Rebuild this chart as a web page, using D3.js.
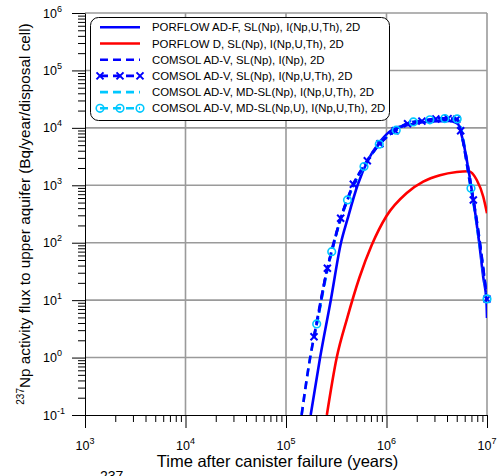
<!DOCTYPE html>
<html><head><meta charset="utf-8">
<script src="https://cdn.jsdelivr.net/npm/d3@7"></script>
<style>
body{margin:0;background:#fff;}
svg{display:block;font-family:Arial,"Liberation Sans",sans-serif;}
</style>
</head><body>
<svg id="chart" width="497" height="476"></svg>
<script>
// ---- tick labels ----
const xDecades = [1e3, 1e4, 1e5, 1e6, 1e7];
const xExponents = ["3", "4", "5", "6", "7"];
const yDecades = [1e-1, 1e0, 1e1, 1e2, 1e3, 1e4, 1e5, 1e6];
const yExponents = ["-1", "0", "1", "2", "3", "4", "5", "6"];

// ---- series (time in years, flux in Bq/year/disposal cell) ----
const porflowAdfT = [1.76e5, 2.18e5, 2.79e5, 3.52e5, 4.07e5, 5.16e5, 6.55e5, 8.41e5, 1.13e6, 1.71e6, 2.71e6, 4.29e6, 5.14e6, 5.64e6, 6.93e6, 8.37e6, 9.18e6, 9.87e6, 1.0e7];
const porflowAdfV = [0.1, 0.98, 10, 99, 249, 1010, 2760, 5440, 9180, 11430, 12900, 13160, 11660, 7000, 1010, 99, 25, 10, 4.9];

const porflowDT = [2.55e5, 3.19e5, 4.07e5, 5.36e5, 7.13e5, 1.0e6, 1.59e6, 2.32e6, 3.40e6, 5.0e6, 6.52e6, 7.91e6, 9.18e6, 1.0e7];
const porflowDV = [0.1, 0.98, 4.9, 24.3, 91, 292, 735, 1156, 1496, 1702, 1754, 1236, 632, 325];

const comsolNpT = [1.43e5, 1.74e5, 1.90e5, 2.02e5, 2.58e5, 2.85e5, 3.50e5, 4.09e5, 4.68e5, 5.97e5, 6.44e5, 8.47e5, 1.22e6, 1.71e6, 2.31e6, 3.54e6, 5.0e6, 5.47e6, 6.93e6, 7.31e6, 1.0e7];
const comsolNpV = [0.1, 1.0, 2.31, 3.85, 35.9, 69.8, 266, 555, 1040, 2120, 2680, 5180, 8930, 12300, 13300, 14700, 14100, 8930, 885, 555, 10.5];

const comsolAllT = [1.90e5, 2.58e5, 3.50e5, 4.68e5, 6.44e5, 8.6e5, 1.22e6, 1.62e6, 2.25e6, 3.1e6, 4.1e6, 5.0e6, 5.47e6, 7.31e6, 1.0e7];
const comsolAllV = [2.31, 35.9, 266, 1040, 2680, 5300, 8930, 11800, 13100, 14300, 14500, 14100, 8930, 555, 10.5];

const comsolMdNpT = [1.43e5, 1.74e5, 1.92e5, 2.05e5, 2.6e5, 2.9e5, 3.5e5, 4.1e5, 4.7e5, 6.0e5, 8.5e5, 1.22e6, 1.71e6, 2.31e6, 3.54e6, 5.0e6, 5.47e6, 6.93e6, 7.31e6, 1.0e7];
const comsolMdNpV = [0.1, 1.0, 2.5, 4.2, 38, 78, 270, 560, 1050, 2150, 5200, 8950, 12300, 13300, 14600, 14100, 8900, 880, 550, 10.5];

const comsolMdNpUT = [2.02e5, 2.85e5, 4.09e5, 5.97e5, 8.47e5, 1.25e6, 1.85e6, 2.7e6, 3.8e6, 5.05e6, 6.93e6, 1.0e7];
const comsolMdNpUV = [3.85, 69.8, 555, 2120, 5180, 9100, 12700, 13800, 14500, 14300, 885, 10.5];

const seriesNames = [
  "PORFLOW AD-F, SL(Np), I(Np,U,Th), 2D",
  "PORFLOW D, SL(Np), I(Np,U,Th), 2D",
  "COMSOL AD-V, SL(Np), I(Np), 2D",
  "COMSOL AD-V, SL(Np), I(Np,U,Th), 2D",
  "COMSOL AD-V, MD-SL(Np), I(Np,U,Th), 2D",
  "COMSOL AD-V, MD-SL(Np,U), I(Np,U,Th), 2D"
];
const xTitle = "Time after canister failure (years)";
const yTitleSup = "237";
const yTitleMain = "Np activity flux to upper aquifer (Bq/year/disposal cell)";

// ---- drawing ----
const BLUE = "#0000ff", RED = "#ff0000", CYAN = "#00c8ff", GRID = "#9a9a9a";
const L = 85, R = 487, T = 13, B = 415;
const svg = d3.select("#chart");
const x = d3.scaleLog().domain([1e3, 1e7]).range([L, R]);
const y = d3.scaleLog().domain([1e-1, 1e6]).range([B, T]);
const zip = (a, b) => a.map((d, i) => [d, b[i]]);

// grid
svg.append("g").selectAll("line").data(xDecades.slice(1)).join("line")
  .attr("x1", d => x(d)).attr("x2", d => x(d)).attr("y1", T).attr("y2", B)
  .attr("stroke", GRID).attr("stroke-width", 1.6);
svg.append("g").selectAll("line").data(yDecades.slice(1)).join("line")
  .attr("y1", d => y(d)).attr("y2", d => y(d)).attr("x1", L).attr("x2", R)
  .attr("stroke", GRID).attr("stroke-width", 1.6);

// minor ticks
const minorX = [], minorY = [];
xDecades.slice(0, -1).forEach(d => { for (let k = 2; k <= 9; k++) minorX.push(d * k); });
yDecades.slice(0, -1).forEach(d => { for (let k = 2; k <= 9; k++) minorY.push(d * k); });

const gx = svg.append("g").attr("transform", `translate(0,${B})`);
gx.call(d3.axisBottom(x).tickValues(xDecades).tickSize(13).tickSizeOuter(0).tickFormat(""));
gx.append("g").call(d3.axisBottom(x).tickValues(minorX).tickSize(7).tickFormat("")).select(".domain").remove();
const gy = svg.append("g").attr("transform", `translate(${L},0)`);
gy.call(d3.axisLeft(y).tickValues(yDecades).tickSize(13).tickSizeOuter(0).tickFormat(""));
gy.append("g").call(d3.axisLeft(y).tickValues(minorY).tickSize(7).tickFormat("")).select(".domain").remove();
svg.selectAll(".domain, .tick line").attr("stroke", "#000").attr("stroke-width", 1);

// tick labels
const xl = svg.append("g").selectAll("text").data(xDecades).join("text")
  .attr("x", d => x(d)).attr("y", 450).attr("text-anchor", "middle").attr("font-size", 12.5);
xl.append("tspan").text("10");
xl.append("tspan").attr("dy", -6).attr("font-size", 9).text((d, i) => xExponents[i]);

const yl = svg.append("g").selectAll("text").data(yDecades).join("text")
  .attr("x", 43).attr("y", d => y(d) + 4.5).attr("text-anchor", "start").attr("font-size", 12.5);
yl.append("tspan").text("10");
yl.append("tspan").attr("dy", -6).attr("font-size", 9).text((d, i) => yExponents[i]);

// axis titles
svg.append("text").attr("x", 277.5).attr("y", 467).attr("text-anchor", "middle")
  .attr("font-size", 16.5).text(xTitle);
const yt = svg.append("text").attr("transform", "translate(29.5,214) rotate(-90)")
  .attr("text-anchor", "middle").attr("font-size", 15.3);
yt.append("tspan").attr("font-size", 10).attr("dy", -6).text(yTitleSup);
yt.append("tspan").attr("dy", 6).text(yTitleMain);

// cut-off caption fragment at bottom (as in the reference)
svg.append("text").attr("x", 100).attr("y", 481).attr("font-size", 14).text("237");

// clip
svg.append("clipPath").attr("id", "pc").append("rect")
  .attr("x", L).attr("y", T).attr("width", R - L).attr("height", B - T);
const plotG = svg.append("g").attr("clip-path", "url(#pc)");
const line = d3.line().x(d => x(d[0])).y(d => y(d[1])).curve(d3.curveMonotoneX);

function drawLine(data, color, dash) {
  plotG.append("path").datum(data).attr("d", line).attr("fill", "none")
    .attr("stroke", color).attr("stroke-width", 2.6)
    .attr("stroke-dasharray", dash || null);
}
drawLine(zip(porflowDT, porflowDV), RED);
drawLine(zip(porflowAdfT, porflowAdfV), BLUE);
drawLine(zip(comsolMdNpT, comsolMdNpV), CYAN, "8,5");
drawLine(zip(comsolMdNpUT, comsolMdNpUV), CYAN, "8,5");
drawLine(zip(comsolNpT, comsolNpV), BLUE, "8,5");
drawLine(zip(comsolAllT, comsolAllV), BLUE, "8,5");

const xMark = "M-3.5,-3.5L3.5,3.5M-3.5,3.5L3.5,-3.5";
svg.append("g").selectAll("path").data(zip(comsolAllT, comsolAllV)).join("path")
  .attr("transform", d => `translate(${x(d[0])},${y(d[1])})`).attr("d", xMark)
  .attr("stroke", BLUE).attr("stroke-width", 2).attr("fill", "none");
svg.append("g").selectAll("circle").data(zip(comsolMdNpUT, comsolMdNpUV)).join("circle")
  .attr("cx", d => x(d[0])).attr("cy", d => y(d[1])).attr("r", 3.8)
  .attr("stroke", CYAN).attr("stroke-width", 1.6).attr("fill", "none");

// legend
const lg = svg.append("g");
lg.append("rect").attr("x", 90.5).attr("y", 17.5).attr("width", 299).attr("height", 103)
  .attr("rx", 8).attr("fill", "#fff").attr("stroke", "#000").attr("stroke-width", 1);
const legStyles = [
  {c: BLUE, d: null, m: null},
  {c: RED, d: null, m: null},
  {c: BLUE, d: "8,5", m: null},
  {c: BLUE, d: "8,5", m: "x"},
  {c: CYAN, d: "8,5", m: null},
  {c: CYAN, d: "8,5", m: "o"}
];
seriesNames.forEach((name, i) => {
  const cy = 27.3 + i * 16.2;
  const s = legStyles[i];
  lg.append("line").attr("x1", 100).attr("x2", 140).attr("y1", cy).attr("y2", cy)
    .attr("stroke", s.c).attr("stroke-width", 2.6).attr("stroke-dasharray", s.d);
  [100, 120, 140].forEach(mx => {
    if (s.m === "x") lg.append("path").attr("transform", `translate(${mx},${cy})`).attr("d", xMark)
      .attr("stroke", s.c).attr("stroke-width", 2).attr("fill", "none");
    if (s.m === "o") lg.append("circle").attr("cx", mx).attr("cy", cy).attr("r", 3.8)
      .attr("stroke", s.c).attr("stroke-width", 1.6).attr("fill", "none");
  });
  lg.append("text").attr("x", 152).attr("y", cy + 4).attr("font-size", 11.4).text(name);
});
</script>
</body></html>
